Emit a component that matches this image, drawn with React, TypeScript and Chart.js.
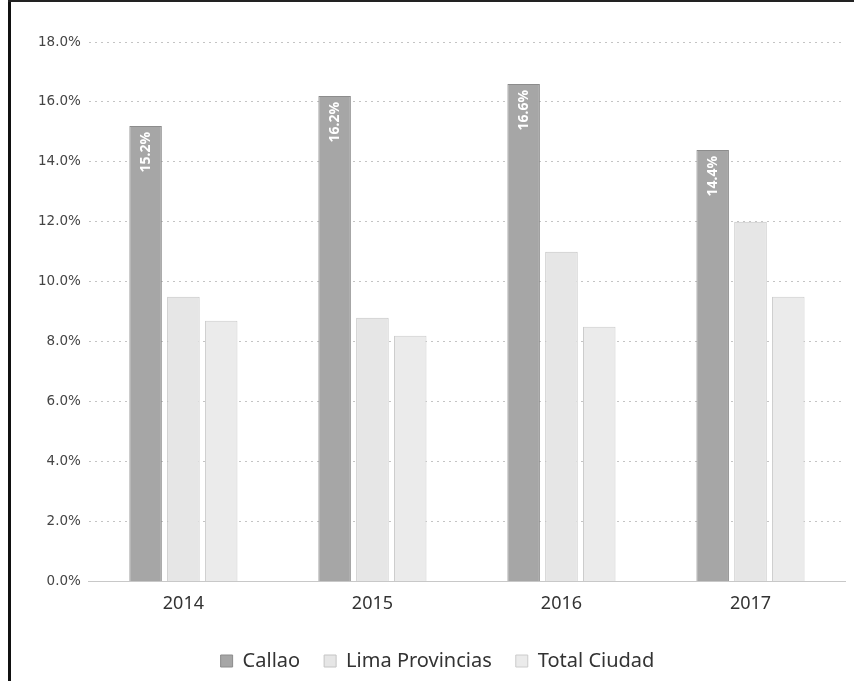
import React, { useEffect, useRef } from "react";
import { Chart, registerables } from "chart.js";

Chart.register(...registerables);

const categories = ["2014", "2015", "2016", "2017"];
const callao = [15.2, 16.2, 16.6, 14.4];
const limaProvincias = [9.5, 8.8, 11.0, 12.0];
const totalCiudad = [8.7, 8.2, 8.5, 9.5];
const seriesNames = ["Callao", "Lima Provincias", "Total Ciudad"];

const labelPlugin = {
  id: "callaoLabels",
  afterDatasetsDraw(chart: any) {
    const meta = chart.getDatasetMeta(0);
    const ctx = chart.ctx;
    ctx.save();
    ctx.fillStyle = "#ffffff";
    ctx.font = "bold 14px 'Noto Sans', sans-serif";
    meta.data.forEach((bar: any, i: number) => {
      const v = chart.data.datasets[0].data[i];
      ctx.save();
      ctx.translate(bar.x, bar.y + 6);
      ctx.rotate(-Math.PI / 2);
      ctx.textAlign = "right";
      ctx.textBaseline = "middle";
      ctx.fillText(v.toFixed(1) + "%", 0, 0);
      ctx.restore();
    });
    ctx.restore();
  },
};

export default function App() {
  const ref = useRef<HTMLCanvasElement | null>(null);
  useEffect(() => {
    if (!ref.current) return;
    const chart = new Chart(ref.current, {
      type: "bar",
      data: {
        labels: categories,
        datasets: [
          {
            label: seriesNames[0],
            data: callao,
            backgroundColor: "#a6a6a6",
            borderColor: "#8c8c8c",
            borderWidth: 1,
          },
          {
            label: seriesNames[1],
            data: limaProvincias,
            backgroundColor: "#e6e6e6",
            borderColor: "#c4c4c4",
            borderWidth: 1,
          },
          {
            label: seriesNames[2],
            data: totalCiudad,
            backgroundColor: "#ebebeb",
            borderColor: "#cccccc",
            borderWidth: 1,
          },
        ],
      },
      options: {
        animation: false,
        responsive: false,
        maintainAspectRatio: false,
        layout: { padding: { left: 18, right: 9, top: 38, bottom: 0 } },
        datasets: { bar: { categoryPercentage: 0.6, barPercentage: 0.86 } },
        scales: {
          x: {
            grid: { display: false, drawTicks: false },
            border: { display: true, color: "#c8c8c8" },
            ticks: {
              color: "#333333",
              font: { family: "'Noto Sans', sans-serif", size: 18 },
              padding: 12,
            },
          },
          y: {
            min: 0,
            max: 18,
            border: { display: false, dash: [2, 4] },
            grid: { color: "#c4c4c4", drawTicks: false, lineWidth: 1 },
            ticks: {
              stepSize: 2,
              color: "#444444",
              padding: 8,
              font: { family: "'DejaVu Sans', sans-serif", size: 13.5 },
              callback: (v: any) => Number(v).toFixed(1) + "%",
            },
          },
        },
        plugins: {
          legend: {
            position: "bottom",
            labels: {
              boxWidth: 12,
              boxHeight: 12,
              padding: 24,
              color: "#333333",
              font: { family: "'Noto Sans', sans-serif", size: 20 },
            },
          },
          tooltip: { enabled: false },
        },
      },
      plugins: [labelPlugin],
    });
    return () => chart.destroy();
  }, []);
  return (
    <div style={{ position: "fixed", left: 0, top: 0, width: 854, height: 681, background: "#fff" }}>
      <div style={{ position: "absolute", left: 8, top: 0, width: 3, height: 681, background: "#111" }} />
      <div style={{ position: "absolute", left: 8, top: 0, width: 846, height: 2, background: "#222" }} />
      <canvas ref={ref} width={842} height={677} style={{ position: "absolute", left: 12, top: 4 }} />
    </div>
  );
}
